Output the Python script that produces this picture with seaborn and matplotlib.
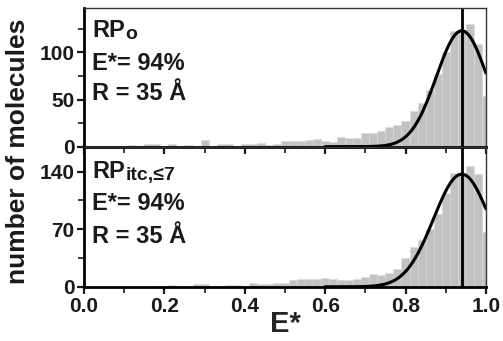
import numpy as np
import pandas as pd
import matplotlib
matplotlib.use('Agg')
import matplotlib.pyplot as plt
from matplotlib.ticker import MultipleLocator
import seaborn as sns

# FRET efficiency histograms, bins of 0.02 centred on 0.00 ... 1.00
e_star = np.round(np.arange(0, 1.001, 0.02), 2)

counts_rpo = [0, 0, 0, 0, 0, 1, 2, 1, 3, 3,
              1, 3, 1, 2, 1, 7, 1, 3, 3, 1,
              3, 3, 4, 2, 3, 6, 6, 6, 7, 8,
              6, 5, 10, 9, 9, 15, 15, 17, 21, 23,
              27, 38, 46, 60, 77, 100, 123, 124, 130, 109,
              54]
counts_rpitc = [0, 0, 0, 0, 0, 0, 0, 0, 0, 1,
                0, 2, 1, 1, 3, 3, 1, 1, 2, 2,
                1, 4, 3, 3, 4, 5, 8, 9, 10, 10,
                11, 10, 8, 8, 9, 12, 16, 14, 17, 22,
                35, 48, 57, 70, 89, 114, 139, 139, 147, 137,
                67]

# gaussian fits (centre, amplitude, sigma)
fit_mu = 0.94
fit_rpo = (123, 0.063)
fit_rpitc = (137, 0.070)

labels_main = ['RP', 'RP']
labels_sub = ['o', 'itc,≤7']
e_text = 'E*= 94%'
r_text = 'R = 35 Å'

df = pd.DataFrame({'E': e_star, 'RPo': counts_rpo, 'RPitc': counts_rpitc})

sns.set_style('ticks')
plt.rcParams['font.family'] = ['Liberation Sans', 'DejaVu Sans']
plt.rcParams['font.weight'] = 'bold'
plt.rcParams['text.color'] = '#1a1a1a'

fig = plt.figure(figsize=(5.03, 3.41), dpi=100)
ax1 = fig.add_axes([0.167, 0.570, 0.799, 0.406])
ax2 = fig.add_axes([0.167, 0.159, 0.799, 0.411], sharex=ax1)

panels = [
    (ax1, 'RPo', fit_rpo, 147, 50, 25, [0.793, 0.554, 0.337]),
    (ax2, 'RPitc', fit_rpitc, 170.5, 70, 35, [0.774, 0.548, 0.31]),
]

xs = np.linspace(0.6, 1.0, 200)
for i, (ax, col, fit, ytop, ymaj, ymin, ypos) in enumerate(panels):
    ax.patch.set_visible(False)
    sns.histplot(data=df, x='E', weights=col, binwidth=0.02,
                 binrange=(-0.01, 1.01), ax=ax,
                 color='#c2c2c2', alpha=1, edgecolor='#dadada', linewidth=0.4)
    amp, sig = fit
    sns.lineplot(x=xs, y=amp * np.exp(-(xs - fit_mu) ** 2 / (2 * sig ** 2)),
                 ax=ax, color='black', linewidth=2.2)
    ax.axvline(fit_mu, color='black', linewidth=2)

    ax.set_xlim(0, 1)
    ax.set_ylim(0, ytop)
    ax.yaxis.set_major_locator(MultipleLocator(ymaj))
    ax.yaxis.set_minor_locator(MultipleLocator(ymin))
    ax.xaxis.set_major_locator(MultipleLocator(0.2))
    ax.xaxis.set_minor_locator(MultipleLocator(0.1))
    ax.tick_params(which='major', direction='out', length=5, width=1.6,
                   labelsize=15, pad=2, colors='#1a1a1a')
    ax.tick_params(which='minor', direction='out', length=4, width=1.2,
                   colors='#1a1a1a')
    ax.set_ylabel('')
    ax.set_xlabel('')
    for s in ['left', 'bottom']:
        ax.spines[s].set_linewidth(2)
        ax.spines[s].set_color('black')
    for s in ['top', 'right']:
        ax.spines[s].set_visible(True)
        ax.spines[s].set_linewidth(1)
        ax.spines[s].set_color('#333333')

    t = ax.text(0.02, ypos[0], labels_main[i], transform=ax.transAxes,
                fontsize=17, fontweight='bold', va='baseline', ha='left')
    ax.annotate(labels_sub[i], xy=(1, 0), xycoords=t, xytext=(0.5, -0.5),
                textcoords='offset points', fontsize=14, fontweight='bold',
                va='bottom', ha='left')
    ax.text(0.02, ypos[1], e_text, transform=ax.transAxes,
            fontsize=17, fontweight='bold', va='baseline', ha='left')
    ax.text(0.02, ypos[2], r_text, transform=ax.transAxes,
            fontsize=17, fontweight='bold', va='baseline', ha='left')

ax1.tick_params(axis='x', labelbottom=False)
ax2.set_xlabel('E*', fontsize=21, fontweight='bold', labelpad=-4)
ax2.set_xticks([0, 0.2, 0.4, 0.6, 0.8, 1.0])
ax2.set_xticklabels(['0.0', '0.2', '0.4', '0.6', '0.8', '1.0'])

fig.text(0.036, 0.556, 'number of molecules', rotation=90, fontsize=19,
         fontweight='bold', ha='center', va='center')

fig.savefig('out.png', dpi=100)
